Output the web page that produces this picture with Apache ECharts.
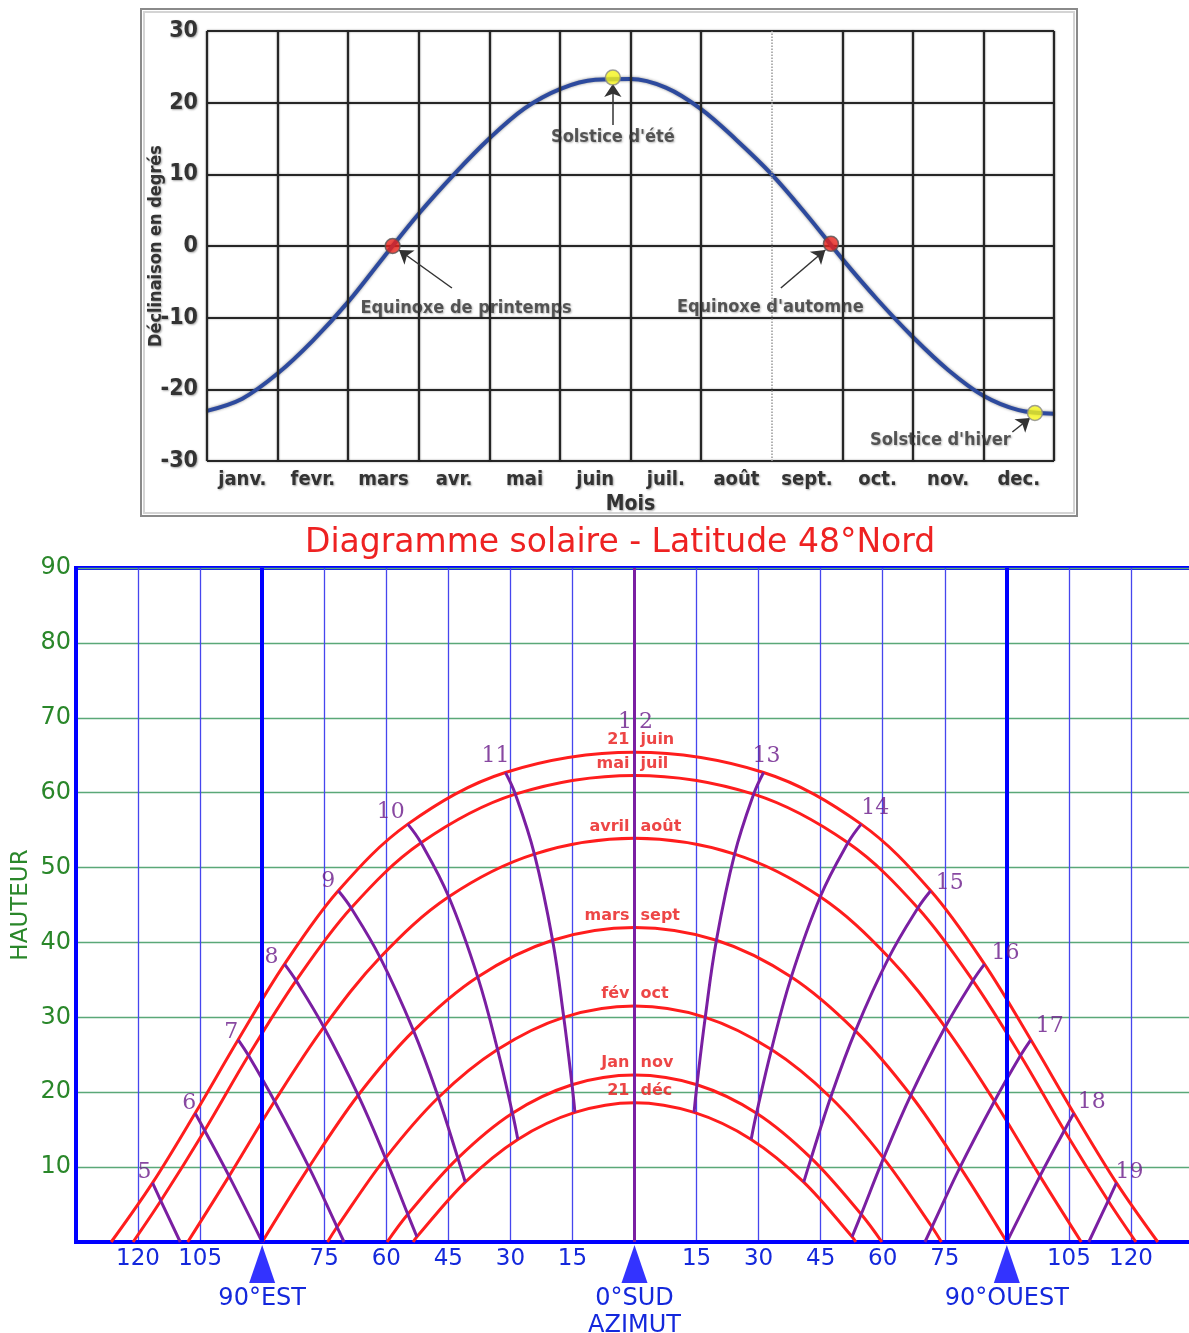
<!DOCTYPE html>
<html><head><meta charset="utf-8">
<script src="https://cdn.jsdelivr.net/npm/echarts@6/dist/echarts.min.js"></script>
<style>html,body{margin:0;padding:0;background:#fff;overflow:hidden}#c{width:1196px;height:1333px}</style>
</head><body><div id="c"></div>
<script>
// ================= DATA : declination chart =================
const months = ['janv.','fevr.','mars','avr.','mai','juin','juil.','août','sept.','oct.','nov.','dec.'];
// [month position (0 = 1 Jan, 12 = 31 Dec), declination in degrees]
const declinationCurve = [[0,-23.0],[0.5,-21.3],[1,-17.8],[1.5,-13.2],[2,-7.8],[2.5,-1.6],[3,4.5],[3.5,10.0],[4,15.0],[4.5,19.2],[5,21.9],[5.5,23.2],[6,23.3],[6.5,22.1],[7,19.1],[7.5,14.8],[8,10.0],[8.5,4.3],[9,-1.8],[9.5,-7.5],[10,-12.7],[10.5,-17.3],[11,-20.9],[11.5,-22.9],[12,-23.4]];
const equinoxes = [[2.63,0],[8.84,0.3]];
const solstices = [[5.75,23.5],[11.73,-23.3]];
const noteTexts = ["Solstice d'été","Equinoxe de printemps","Equinoxe d'automne","Solstice d'hiver"];
const notePoints = [[5.75,15.2],[3.67,-8.65],[7.98,-8.5],[10.39,-27.07]];
const arrowFrom = [[5.75,16.9],[3.47,-5.86],[8.13,-5.86],[11.41,-25.95]];
const arrowTo   = [[5.75,22.6],[2.72,-0.56],[8.76,-0.56],[11.66,-24.0]];

// ================= DATA : sun path diagram (azimuth: - = east, + = west ; altitude) =================
const pathJune   = [[-126.5,0],[-116.5,7.9],[-106.2,17.2],[-95.8,27.0],[-84.6,37.1],[-71.6,46.9],[-54.8,55.8],[-31.2,62.7],[0,65.4],[31.2,62.7],[54.8,55.8],[71.6,46.9],[84.6,37.1],[95.8,27.0],[106.2,17.2],[116.5,7.9],[126.5,0]];
const pathMayJul = [[-121.2,0],[-114.5,5.5],[-103.9,14.9],[-93.3,24.9],[-81.8,34.9],[-68.5,44.6],[-51.6,53.3],[-28.8,59.8],[0,62.3],[28.8,59.8],[51.6,53.3],[68.5,44.6],[81.8,34.9],[93.3,24.9],[103.9,14.9],[114.5,5.5],[121.2,0]];
const pathAprAug = [[-108.0,0],[-98.0,8.8],[-87.0,18.8],[-75.1,28.7],[-61.5,38.0],[-44.9,46.1],[-24.2,51.8],[0,53.9],[24.2,51.8],[44.9,46.1],[61.5,38.0],[75.1,28.7],[87.0,18.8],[98.0,8.8],[108.0,0]];
const pathMarSep = [[-90,0],[-78.7,10.0],[-66.8,19.6],[-53.4,28.2],[-37.9,35.4],[-19.8,40.3],[0,42.0],[19.8,40.3],[37.9,35.4],[53.4,28.2],[66.8,19.6],[78.7,10.0],[90,0]];
const pathFebOct = [[-74.2,0],[-71.9,2.0],[-60.2,11.2],[-47.4,19.3],[-33.1,25.7],[-17.1,30.0],[0,31.5],[17.1,30.0],[33.1,25.7],[47.4,19.3],[60.2,11.2],[71.9,2.0],[74.2,0]];
const pathJanNov = [[-59.8,0],[-54.8,3.7],[-42.7,11.2],[-29.5,17.2],[-15.1,21.0],[0,22.3],[15.1,21.0],[29.5,17.2],[42.7,11.2],[54.8,3.7],[59.8,0]];
const pathDec    = [[-53.5,0],[-52.6,0.7],[-40.9,8.0],[-28.2,13.7],[-14.4,17.3],[0,18.6],[14.4,17.3],[28.2,13.7],[40.9,8.0],[52.6,0.7],[53.5,0]];
const sunPaths = [pathJune, pathMayJul, pathAprAug, pathMarSep, pathFebOct, pathJanNov, pathDec];
const pathWordLeft  = ['21','mai','avril','mars','fév','Jan','21'];
const pathWordRight = ['juin','juil','août','sept','oct','nov','déc'];

const hourLabels = ['5','6','7','8','9','10','11','12','13','14','15','16','17','18','19'];
const hourLines = [
  [[-116.5,7.9],[-114.5,5.5],[-109.8,0]],
  [[-106.2,17.2],[-103.9,14.9],[-98.0,8.8],[-90,0]],
  [[-95.8,27.0],[-93.3,24.9],[-87.0,18.8],[-78.7,10.0],[-71.9,2.0],[-70.2,0]],
  [[-84.6,37.1],[-81.8,34.9],[-75.1,28.7],[-66.8,19.6],[-60.2,11.2],[-54.8,3.7],[-52.6,0.7]],
  [[-71.6,46.9],[-68.5,44.6],[-61.5,38.0],[-53.4,28.2],[-47.4,19.3],[-42.7,11.2],[-40.9,8.0]],
  [[-54.8,55.8],[-51.6,53.3],[-44.9,46.1],[-37.9,35.4],[-33.1,25.7],[-29.5,17.2],[-28.2,13.7]],
  [[-31.2,62.7],[-28.8,59.8],[-24.2,51.8],[-19.8,40.3],[-17.1,30.0],[-15.1,21.0],[-14.4,17.3]],
  [[0,65.4],[0,62.3],[0,53.9],[0,42.0],[0,31.5],[0,22.3],[0,18.6]],
  [[31.2,62.7],[28.8,59.8],[24.2,51.8],[19.8,40.3],[17.1,30.0],[15.1,21.0],[14.4,17.3]],
  [[54.8,55.8],[51.6,53.3],[44.9,46.1],[37.9,35.4],[33.1,25.7],[29.5,17.2],[28.2,13.7]],
  [[71.6,46.9],[68.5,44.6],[61.5,38.0],[53.4,28.2],[47.4,19.3],[42.7,11.2],[40.9,8.0]],
  [[84.6,37.1],[81.8,34.9],[75.1,28.7],[66.8,19.6],[60.2,11.2],[54.8,3.7],[52.6,0.7]],
  [[95.8,27.0],[93.3,24.9],[87.0,18.8],[78.7,10.0],[71.9,2.0],[70.2,0]],
  [[106.2,17.2],[103.9,14.9],[98.0,8.8],[90,0]],
  [[116.5,7.9],[114.5,5.5],[109.8,0]]
];
const compassMarks = [[-90,0],[0,0],[90,0]];
const compassTexts = ['90°EST','0°SUD\nAZIMUT','90°OUEST'];

// ================= STYLE =================
const NARROW = '"Liberation Sans Narrow","DejaVu Sans Condensed","Liberation Sans",sans-serif';
const SANS = '"DejaVu Sans",Verdana,sans-serif';
const SERIF = '"DejaVu Serif","Liberation Serif",serif';
const RED = '#ff1d1d', PURPLE = '#7a1fa2', BLUE = '#0000ff', GREEN = '#2a872a', TXTBLUE = '#1428dc';
const hourLabelOffset = [[-8,-11],[-6,-10],[-7,-8],[-13,-7],[-10,-9],[-17,-12],[-10,-16],[1,-30],[3,-16],[14,-16],[19,-7],[21,-11],[19,-14],[18,-11],[13,-11]];
const darkText = {fontFamily: NARROW, fontWeight: 'bold', color: '#333',
  textShadowColor: 'rgba(0,0,0,0.35)', textShadowBlur: 2, textShadowOffsetX: 1, textShadowOffsetY: 1};

const chart = echarts.init(document.getElementById('c'));
const series = [];

// --- top chart: vertical month boundaries
const monthBounds = [];
for (let t = 0; t <= months.length; t++) monthBounds.push(t);
series.push({type:'line', xAxisIndex:0, yAxisIndex:0, data:[], z:1, silent:true,
  markLine:{symbol:'none', silent:true, label:{show:false},
    data: monthBounds.map(t => ({xAxis:t, lineStyle: t === 8 ?
      {color:'#999', type:'dotted', width:1.5} :
      {color:'#262626', type:'solid', width:2.2, shadowColor:'rgba(0,0,0,0.4)', shadowBlur:2}}))}});
// --- declination curve + arrows
series.push({type:'line', xAxisIndex:0, yAxisIndex:0, data:declinationCurve, smooth:0.35, symbol:'none', z:3,
  lineStyle:{color:'#2d4a9e', width:4, shadowColor:'rgba(0,0,0,0.45)', shadowBlur:3},
  markLine:{symbol:['none','arrow'], symbolSize:13, silent:true, label:{show:false},
    lineStyle:{color:'#333', width:1.5, type:'solid'},
    data: arrowFrom.map((a,i) => [{coord:a},{coord:arrowTo[i]}])}});
series.push({type:'scatter', xAxisIndex:0, yAxisIndex:0, data:equinoxes, symbolSize:15, z:5,
  itemStyle:{color:'#e8221a', borderColor:'#555', borderWidth:1.5}});
series.push({type:'scatter', xAxisIndex:0, yAxisIndex:0, data:solstices, symbolSize:15, z:5,
  itemStyle:{color:'#f5f51a', borderColor:'#888', borderWidth:1.5}});
series.push({type:'scatter', xAxisIndex:0, yAxisIndex:0, z:6, symbolSize:0, itemStyle:{color:'transparent'},
  data: notePoints.map((p,i) => ({value:p, name:noteTexts[i]})),
  label:{show:true, position:'inside', formatter:p => p.name, fontSize:18, ...darkText}});

// --- bottom chart
series.push({type:'line', xAxisIndex:2, yAxisIndex:1, data:[], z:1, silent:true,
  markLine:{symbol:'none', silent:true, label:{show:false}, lineStyle:{color:BLUE, width:4, type:'solid'},
    data:[{xAxis:-90},{xAxis:90}]}});
sunPaths.forEach(p => series.push({type:'line', xAxisIndex:2, yAxisIndex:1, data:p, smooth:0.35, symbol:'none', z:3,
  lineStyle:{color:RED, width:3}}));
hourLines.forEach(p => series.push({type:'line', xAxisIndex:2, yAxisIndex:1, data:p, smooth:0.4, symbol:'none', z:4,
  lineStyle:{color:PURPLE, width:3}}));
series.push({type:'line', xAxisIndex:2, yAxisIndex:1, data:[], z:5, silent:true,
  markLine:{symbol:'none', silent:true, label:{show:false}, lineStyle:{color:PURPLE, width:3, type:'solid'},
    data:[{xAxis:0}]}});
// hour labels
series.push({type:'scatter', xAxisIndex:2, yAxisIndex:1, z:7, symbolSize:0, itemStyle:{color:'transparent'},
  data: hourLines.map((l,i) => ({value:l[0], name:hourLabels[i], label:{offset:hourLabelOffset[i]}})),
  label:{show:true, position:'inside', formatter:p => p.name === '12' ? '1 2' : p.name,
    fontFamily:SERIF, fontSize:22, color:'#6a1a8a', textBorderWidth:0}});
// month words
const noonPts = sunPaths.map(p => p[(p.length - 1) / 2]);
series.push({type:'scatter', xAxisIndex:2, yAxisIndex:1, z:7, symbolSize:0, itemStyle:{color:'transparent'},
  data: noonPts.map((p,i) => ({value:p, name:pathWordLeft[i]})),
  label:{show:true, position:'inside', align:'right', offset:[-5,-12], formatter:p => p.name,
    fontFamily:SANS, fontWeight:'bold', fontSize:16, color:'#e81818', textBorderWidth:0}});
series.push({type:'scatter', xAxisIndex:2, yAxisIndex:1, z:7, symbolSize:0, itemStyle:{color:'transparent'},
  data: noonPts.map((p,i) => ({value:p, name:pathWordRight[i]})),
  label:{show:true, position:'inside', align:'left', offset:[6,-12], formatter:p => p.name,
    fontFamily:SANS, fontWeight:'bold', fontSize:16, color:'#e81818', textBorderWidth:0}});
// compass triangles
series.push({type:'scatter', xAxisIndex:2, yAxisIndex:1, z:8, clip:false, symbol:'triangle', symbolSize:[26,38],
  symbolOffset:[0,22], itemStyle:{color:BLUE},
  data: compassMarks.map((p,i) => ({value:p, name:compassTexts[i]})),
  label:{show:true, position:'bottom', distance:2, formatter:p => p.name, fontFamily:SANS, fontSize:24,
    lineHeight:27, color:TXTBLUE, opacity:1}});

chart.setOption({
  animation:false,
  backgroundColor:'#fff',
  title:{text:'Diagramme solaire - Latitude 48°Nord', left:300, top:522,
    textStyle:{fontFamily:SANS, fontWeight:'normal', fontSize:33, color:'#ee2222'}},
  graphic:[
    {type:'rect', silent:true, z:-10, shape:{x:141, y:9, width:936, height:507}, style:{fill:'none', stroke:'#8a8a8a', lineWidth:2}},
    {type:'rect', silent:true, z:-10, shape:{x:144, y:12, width:930, height:501}, style:{fill:'none', stroke:'#d4d4d4', lineWidth:2}}
  ],
  grid:[
    {left:207, top:31, width:847, height:430},
    {left:76, right:0, top:568, height:674, show:true, borderColor:BLUE, borderWidth:4}
  ],
  xAxis:[
    {type:'value', gridIndex:0, min:0, max:12, interval:1, axisLabel:{show:false}, axisLine:{show:false},
      axisTick:{show:false}, splitLine:{show:false}},
    {type:'category', gridIndex:0, data:months, boundaryGap:true, position:'bottom', axisLine:{show:false},
      axisTick:{show:false}, splitLine:{show:false},
      axisLabel:{interval:0, margin:9, fontSize:20, ...darkText},
      name:'Mois', nameLocation:'middle', nameGap:33, nameMoveOverlap:false, nameTextStyle:{fontSize:21, ...darkText}},
    {type:'value', gridIndex:1, min:-135, max:135, interval:15,
      axisLine:{show:true, onZero:false, lineStyle:{color:BLUE, width:4}}, axisTick:{show:false},
      axisLabel:{margin:6, fontFamily:SANS, fontSize:23, color:TXTBLUE, hideOverlap:false,
        formatter:v => (v === 0 || Math.abs(v) === 90 || Math.abs(v) === 135) ? '' : String(Math.abs(v))},
      splitLine:{show:true, lineStyle:{color:'#4646ee', width:1.3}}}
  ],
  yAxis:[
    {type:'value', gridIndex:0, min:-30, max:30, interval:10, axisLine:{show:false}, axisTick:{show:false},
      axisLabel:{margin:9, fontSize:23, ...darkText},
      splitLine:{show:true, lineStyle:{color:'#262626', width:2.2, shadowColor:'rgba(0,0,0,0.4)', shadowBlur:2}},
      name:'Déclinaison en degrés', nameLocation:'middle', nameGap:42, nameMoveOverlap:false,
      nameTextStyle:{fontSize:18, ...darkText}},
    {type:'value', gridIndex:1, min:0, max:90, interval:10,
      axisLine:{show:true, onZero:false, lineStyle:{color:BLUE, width:4}}, axisTick:{show:false},
      axisLabel:{margin:5, fontFamily:SANS, fontSize:24, color:GREEN, formatter:v => v === 0 ? '' : String(v)},
      splitLine:{show:true, lineStyle:{color:'#5aa878', width:1.4}},
      name:'HAUTEUR', nameLocation:'middle', nameGap:43, nameMoveOverlap:false,
      nameTextStyle:{fontFamily:SANS, fontSize:23, color:GREEN}}
  ],
  series: series
});
</script>
</body></html>
